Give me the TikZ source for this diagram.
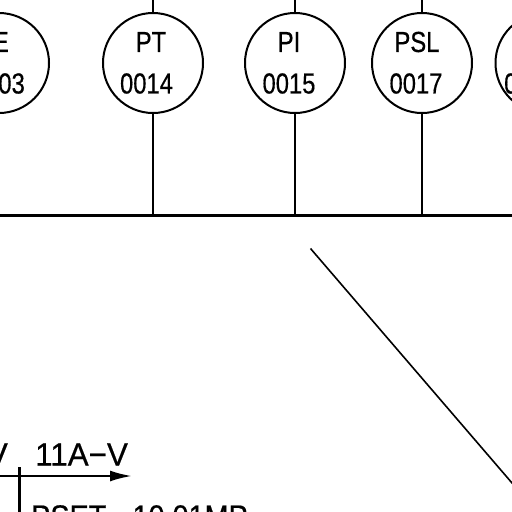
\documentclass[tikz,border=0pt]{standalone}
\usepackage{fontspec}
\setmainfont{Liberation Sans}
\newfontfamily\cadfont[FakeBold=0.5]{Liberation Sans}
\usetikzlibrary{arrows.meta}
\tikzset{
  x=1pt,y=-1pt,
  inst/.style={circle,draw,line width=2pt,minimum size=100pt,inner sep=0pt},
  wire/.style={line width=2pt},
  bus/.style={line width=3pt},
  tagtext/.style={inner sep=0pt,font=\cadfont\fontsize{29pt}{29pt}\selectfont,xscale=0.82},
  bigtext/.style={inner sep=0pt,font=\cadfont\fontsize{32pt}{32pt}\selectfont,xscale=0.98},
  psettext/.style={inner sep=0pt,font=\cadfont\fontsize{32pt}{32pt}\selectfont,xscale=0.9},
  diag/.style={line width=1.6pt}
}
\begin{document}
\begin{tikzpicture}
\useasboundingbox (0,0) rectangle (512,512);
\clip (0,0) rectangle (512,512);
\node[inst] (c1) at (-1,63) {};
\node[inst] (c2) at (153,63) {};
\node[inst] (c3) at (295,63) {};
\node[inst] (c4) at (422,63) {};
\node[inst] (c5) at (545.5,63) {};
\coordinate (busL) at (-5,215);
\coordinate (busR) at (517,215);
\draw[bus] (busL) -- (busR);
\foreach \n/\x in {c2/153,c3/295,c4/422}{
  \coordinate (b\n) at (\x,215);
  \coordinate (t\n) at (\x,-5);
  \draw[wire] (\n) -- (b\n);
  \draw[wire] (\n) -- (t\n);
}
\node[tagtext,anchor=east] (t1a) at (9,42) {E};
\node[tagtext,anchor=east] (t1b) at (25,83.5) {03};
\node[tagtext] (t2a) at (151,42) {PT};
\node[tagtext] (t2b) at (146.5,83.5) {0014};
\node[tagtext] (t3a) at (289,42) {PI};
\node[tagtext] (t3b) at (289,83.5) {0015};
\node[tagtext] (t4a) at (417,42) {PSL};
\node[tagtext] (t4b) at (416,83.5) {0017};
\node[tagtext,anchor=west] (t5b) at (504,83.5) {0};
\coordinate (d1) at (310.5,248.5);
\coordinate (d2) at (520,492.3);
\draw[diag] (d1) -- (d2);
\coordinate (a0) at (-5,476);
\coordinate (a1) at (132,476);
\draw[line width=2.4pt,-{Latex[length=22pt,width=11pt]}] (a0) -- (a1);
\coordinate (v0) at (19.5,467);
\coordinate (v1) at (19.5,517);
\draw[bus] (v0) -- (v1);
\node[bigtext,anchor=west] (lab) at (35,454.5) {11A−V};
\node[bigtext,anchor=east] (labv) at (8,454.5) {V};
\node[psettext,anchor=west] (pset) at (31,516.5) {PSET\hspace{29pt}10.01MP};
\end{tikzpicture}
\end{document}
